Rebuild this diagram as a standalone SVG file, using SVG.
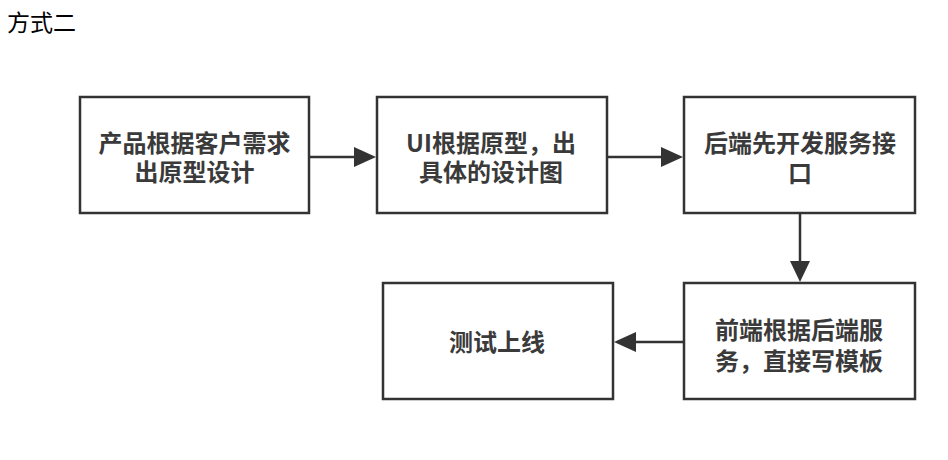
<svg xmlns="http://www.w3.org/2000/svg" width="948" height="460" viewBox="0 0 948 460">
<defs>
<style>
.box{fill:#fff;stroke:#333;stroke-width:2.5}
.t{font-family:"Noto Sans CJK SC","Noto Sans",sans-serif;font-size:24px;font-weight:bold;fill:#3a3a3a;text-anchor:middle}
.title{font-family:"Noto Sans CJK SC","Noto Sans",sans-serif;font-size:23px;fill:#000}
.c{stroke:#333;stroke-width:2.5;fill:none}
.h{fill:#333}
</style>
</defs>
<rect width="948" height="460" fill="#fff"/>
<text class="title" x="7" y="31">方式二</text>
<g id="connectors">
<path class="c" d="M309,157 H355"/>
<path class="h" d="M354,147 L376,157 L354,167 Z"/>
<path class="c" d="M607,157 H662"/>
<path class="h" d="M661,147 L683,157 L661,167 Z"/>
<path class="c" d="M800,213 V262"/>
<path class="h" d="M790,261 L800,282 L810,261 Z"/>
<path class="c" d="M684,342 H635"/>
<path class="h" d="M636,332 L614,342 L636,352 Z"/>
</g>
<g id="n1">
<rect class="box" x="80" y="97" width="229" height="116"/>
<text class="t"><tspan x="194.5" y="151.5">产品根据客户需求</tspan><tspan x="194.5" y="181">出原型设计</tspan></text>
</g>
<g id="n2">
<rect class="box" x="377" y="97" width="230" height="116"/>
<text class="t"><tspan x="491" y="151.5">UI根据原型，出</tspan><tspan x="491" y="181">具体的设计图</tspan></text>
</g>
<g id="n3">
<rect class="box" x="684" y="97" width="231" height="116"/>
<text class="t"><tspan x="800" y="151.5">后端先开发服务接</tspan><tspan x="800" y="181.5">口</tspan></text>
</g>
<g id="n4">
<rect class="box" x="684" y="283" width="231" height="116"/>
<text class="t"><tspan x="799" y="338.5">前端根据后端服</tspan><tspan x="799" y="369.5">务，直接写模板</tspan></text>
</g>
<g id="n5">
<rect class="box" x="383" y="283" width="230" height="116"/>
<text class="t" x="497" y="350.5">测试上线</text>
</g>
</svg>
